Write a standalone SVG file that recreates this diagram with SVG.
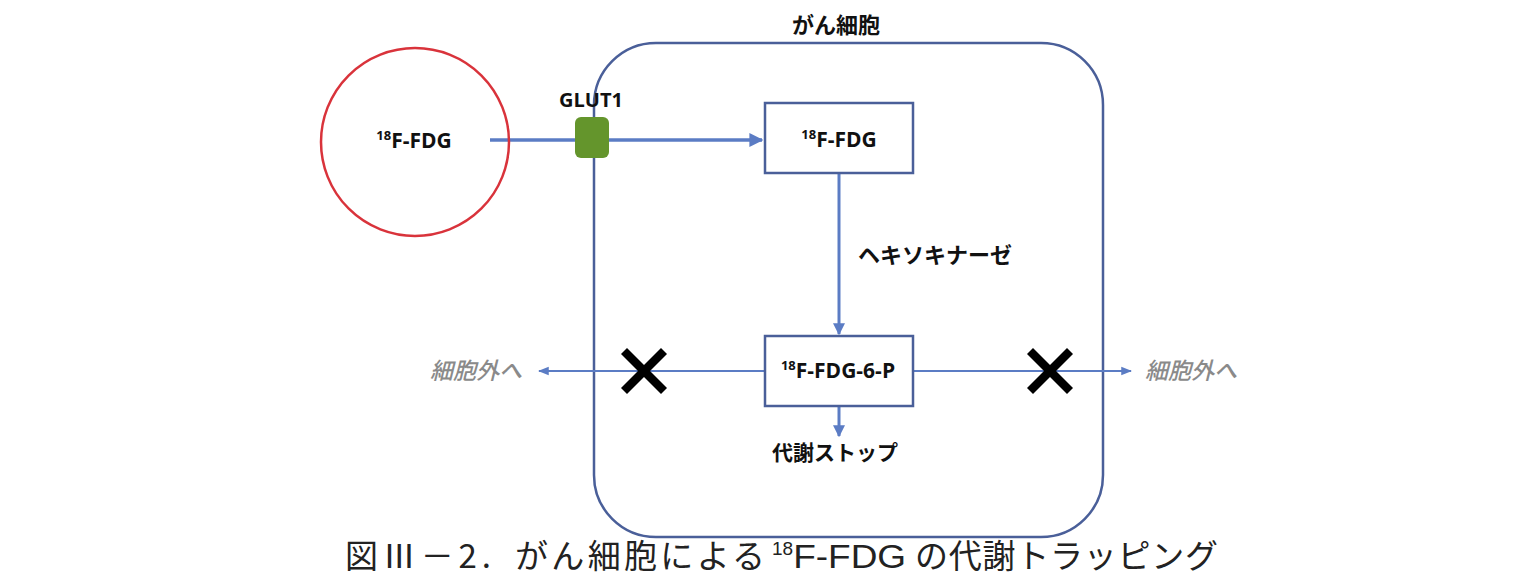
<svg xmlns="http://www.w3.org/2000/svg" width="1536" height="583" viewBox="0 0 1536 583">
<defs>
<style>
.t{font-family:"Open Sans","Noto Sans CJK JP",sans-serif;font-weight:bold;fill:#111;}
.g{font-family:"Noto Sans CJK JP",sans-serif;font-style:italic;font-weight:500;fill:#8a8a8a;font-size:23px;}
.cap{font-family:"Noto Sans CJK JP",sans-serif;fill:#222;font-size:33px;}
.capl{font-family:"Liberation Sans",sans-serif;fill:#222;font-size:33px;}
.ln{stroke:#5b7cc4;fill:none;}
.box{fill:#fff;stroke:#4a5f99;stroke-width:2.5;}
.x{stroke:#000;stroke-width:8.5;stroke-linecap:butt;}
</style>
<marker id="ah" viewBox="0 0 10 10" refX="9" refY="5" markerWidth="4" markerHeight="4" orient="auto" markerUnits="strokeWidth">
<path d="M0,0 L10,5 L0,10 z" fill="#5b7cc4"/>
</marker>
<marker id="ahs" viewBox="0 0 10 10" refX="9" refY="5" markerWidth="6" markerHeight="6" orient="auto" markerUnits="strokeWidth">
<path d="M0,1 L10,5 L0,9 z" fill="#5b7cc4"/>
</marker>
</defs>
<rect width="1536" height="583" fill="#fff"/>
<g id="cell">
<rect x="594" y="43" width="509" height="494" rx="62" ry="62" fill="none" stroke="#4a5f99" stroke-width="2.5"/>
<text class="t" x="836" y="33" font-size="22" text-anchor="middle">がん細胞</text>
</g>
<g id="connectors">
<line class="ln" x1="490" y1="140" x2="762" y2="140" stroke-width="3.5" marker-end="url(#ah)"/>
<line class="ln" x1="839" y1="173" x2="839" y2="334" stroke-width="3" marker-end="url(#ah)"/>
<line class="ln" x1="839" y1="406" x2="839" y2="436" stroke-width="3" marker-end="url(#ah)"/>
<line class="ln" x1="765" y1="371" x2="539" y2="371" stroke-width="1.8" marker-end="url(#ahs)"/>
<line class="ln" x1="913" y1="371" x2="1131" y2="371" stroke-width="1.8" marker-end="url(#ahs)"/>
</g>
<g id="fdg-outside">
<circle cx="415" cy="142" r="94" fill="none" stroke="#d9333b" stroke-width="2.5"/>
<text class="t" x="414" y="148" font-size="21" text-anchor="middle"><tspan font-size="13" dy="-8">18</tspan><tspan dy="8">F-FDG</tspan></text>
</g>
<g id="glut1">
<rect x="575" y="117" width="34" height="41" rx="6" fill="#64952c"/>
<text class="t" x="591" y="107" font-size="20" text-anchor="middle">GLUT1</text>
</g>
<g id="fdg-inside">
<rect class="box" x="765" y="103" width="148" height="70"/>
<text class="t" x="839" y="147" font-size="21" text-anchor="middle"><tspan font-size="13" dy="-8">18</tspan><tspan dy="8">F-FDG</tspan></text>
</g>
<g id="hexokinase">
<text class="t" x="858" y="263" font-size="22">ヘキソキナーゼ</text>
</g>
<g id="fdg6p">
<rect class="box" x="765" y="336" width="148" height="70"/>
<text class="t" x="838" y="378" font-size="21" text-anchor="middle"><tspan font-size="13" dy="-8">18</tspan><tspan dy="8">F-FDG-6-P</tspan></text>
</g>
<g id="stop">
<text class="t" x="835" y="460" font-size="21" text-anchor="middle">代謝ストップ</text>
</g>
<g id="out-left">
<text class="g" x="430" y="379">細胞外へ</text>
</g>
<g id="out-right">
<text class="g" x="1145" y="379">細胞外へ</text>
</g>
<g id="cross-left">
<line class="x" x1="624" y1="351" x2="664" y2="391"/>
<line class="x" x1="664" y1="351" x2="624" y2="391"/>
</g>
<g id="cross-right">
<line class="x" x1="1030" y1="351" x2="1070" y2="391"/>
<line class="x" x1="1070" y1="351" x2="1030" y2="391"/>
</g>
<g id="caption">
<text class="cap" x="345" y="568" textLength="146" lengthAdjust="spacing">図Ⅲ－2.</text>
<text class="cap" x="515" y="568" textLength="250" lengthAdjust="spacing">がん細胞による</text>
<text class="capl" x="772" y="568"><tspan font-size="19" dy="-13">18</tspan><tspan dy="13" textLength="113" lengthAdjust="spacingAndGlyphs">F-FDG</tspan></text>
<text class="cap" x="915" y="568" textLength="303" lengthAdjust="spacing">の代謝トラッピング</text>
</g>
</svg>
